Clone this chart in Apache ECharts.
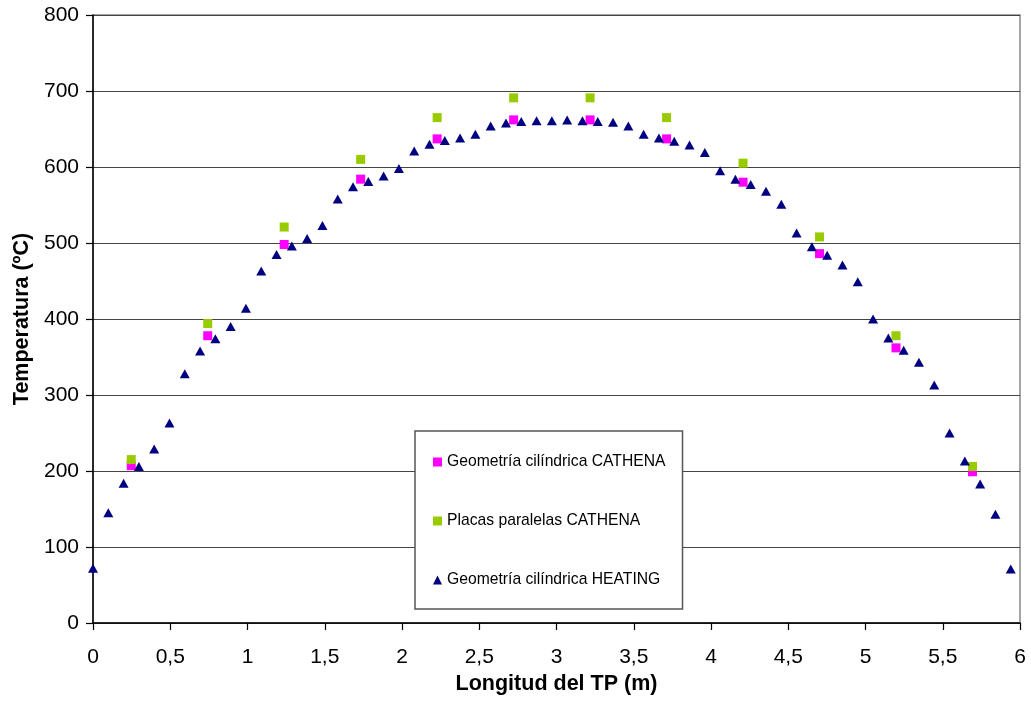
<!DOCTYPE html>
<html>
<head>
<meta charset="utf-8">
<script src="https://cdn.jsdelivr.net/npm/echarts@6/dist/echarts.min.js"></script>
<style>
html,body{margin:0;padding:0;background:#fff;}
#c{width:1031px;height:704px;}
</style>
</head>
<body>
<div id="c"></div>
<script>
// Longitud del TP (m) for HEATING points
const heatX = [0, 0.099, 0.198, 0.297, 0.396, 0.495, 0.594, 0.693, 0.792, 0.891,
  0.99, 1.089, 1.188, 1.287, 1.386, 1.485, 1.584, 1.683, 1.782, 1.881,
  1.98, 2.079, 2.178, 2.277, 2.376, 2.475, 2.574, 2.673, 2.772, 2.871,
  2.97, 3.069, 3.168, 3.267, 3.366, 3.465, 3.564, 3.663, 3.762, 3.861,
  3.96, 4.059, 4.158, 4.257, 4.356, 4.455, 4.554, 4.653, 4.752, 4.851,
  4.95, 5.049, 5.148, 5.247, 5.346, 5.445, 5.544, 5.643, 5.742, 5.841, 5.94];
const heatY = [72, 145, 184, 206, 229, 263, 328, 358, 374, 390,
  414, 463, 485, 496, 506, 523, 558, 574, 581, 588,
  598, 621, 630, 635, 638, 643, 654, 658, 660, 661,
  661, 662, 661, 660, 659, 654, 643, 638, 634, 629,
  619, 595, 584, 577, 568, 551, 513, 495, 484, 471,
  449, 400, 375, 359, 343, 313, 250, 213, 183, 143, 71];
// CATHENA points (bundle centres)
const cathX = [0.2475, 0.7425, 1.2375, 1.7325, 2.2275, 2.7225, 3.2175, 3.7125, 4.2075, 4.7025, 5.1975, 5.6925];
const cylY = [207, 378, 498, 584, 637, 662, 662, 637, 580, 486, 362, 199];
const plateY = [215, 394, 521, 610, 665, 691, 691, 665, 605, 508, 378, 206];

const names = ['Geometría cilíndrica CATHENA', 'Placas paralelas CATHENA', 'Geometría cilíndrica HEATING'];
const zip = (xs, ys) => xs.map((x, i) => [x, ys[i]]);

const FONT = '"Liberation Sans", Arial, Helvetica, sans-serif';
const chart = echarts.init(document.getElementById('c'), null, {renderer: 'canvas'});
chart.setOption({
  animation: false,
  backgroundColor: '#fff',
  textStyle: {fontFamily: FONT},
  grid: {left: 93, top: 15, right: 11, bottom: 81, show: true, borderColor: '#888', borderWidth: 1.5, backgroundColor: 'transparent'},
  xAxis: {
    type: 'value', min: 0, max: 6, interval: 0.5,
    name: 'Longitud del TP (m)', nameLocation: 'middle', nameGap: 48,
    nameTextStyle: {fontFamily: FONT, fontSize: 21.5, fontWeight: 'bold', color: '#000'},
    axisLine: {onZero: false, lineStyle: {color: '#000', width: 1.5}},
    axisTick: {show: true, inside: false, length: 7, lineStyle: {color: '#000', width: 1.2}},
    axisLabel: {fontFamily: FONT, fontSize: 21, color: '#000', margin: 24,
      formatter: v => String(v).replace('.', ',')},
    splitLine: {show: false}
  },
  yAxis: {
    type: 'value', min: 0, max: 800, interval: 100,
    name: 'Temperatura (ºC)', nameLocation: 'middle', nameGap: 59,
    nameTextStyle: {fontFamily: FONT, fontSize: 21.5, fontWeight: 'bold', color: '#000'},
    axisLine: {show: true, lineStyle: {color: '#000', width: 1.5}},
    axisTick: {show: true, inside: false, length: 7, lineStyle: {color: '#000', width: 1.2}},
    axisLabel: {fontFamily: FONT, fontSize: 21, color: '#000', margin: 14},
    splitLine: {show: true, lineStyle: {color: '#444', width: 1.2}}
  },
  legend: {
    orient: 'vertical', left: 415, top: 431,
    padding: [23, 17, 21, 18],
    itemGap: 43,
    itemWidth: 9, itemHeight: 9,
    borderColor: '#555', borderWidth: 1.5, backgroundColor: '#fff',
    textStyle: {fontFamily: FONT, fontSize: 15.7, color: '#000', lineHeight: 16},
    data: [
      {name: names[0], icon: 'rect'},
      {name: names[1], icon: 'rect'},
      {name: names[2], icon: 'triangle'}
    ]
  },
  series: [
    {name: names[0], type: 'scatter', symbol: 'rect', symbolSize: 9,
      itemStyle: {color: '#FF00FF', opacity: 1}, data: zip(cathX, cylY), z: 3},
    {name: names[1], type: 'scatter', symbol: 'rect', symbolSize: 9,
      itemStyle: {color: '#99CC00', opacity: 1}, data: zip(cathX, plateY), z: 4},
    {name: names[2], type: 'scatter', symbol: 'triangle', symbolSize: [10, 9],
      itemStyle: {color: '#000080', opacity: 1}, data: zip(heatX, heatY), z: 5}
  ]
});
</script>
</body>
</html>
